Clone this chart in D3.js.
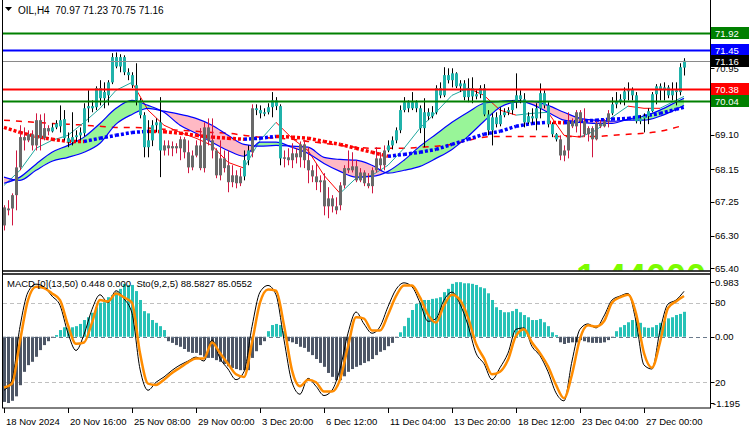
<!DOCTYPE html>
<html>
<head>
<meta charset="utf-8">
<script src="https://cdn.jsdelivr.net/npm/d3@7"></script>
<style>
  body { margin: 0; background: #fff; }
  svg { display: block; font-family: "Liberation Sans", Arial, sans-serif; }
</style>
</head>
<body>
<svg id="chart" width="750" height="430"></svg>
<script>
// ---- data (OIL, H4) ----
const openP = [
  67.09,67.01,67.06,67.43,68.20,69.04,68.95,69.12,68.81,69.51,
  69.01,69.29,69.20,69.31,69.34,69.54,69.01,68.90,69.04,69.09,
  69.15,69.84,69.90,69.87,70.40,70.12,70.20,70.56,71.26,71.00,
  71.26,70.84,70.76,70.48,70.06,69.65,68.76,68.95,69.37,69.45,
  68.67,68.81,68.73,68.79,68.73,68.98,68.62,68.20,68.53,68.81,
  68.18,69.31,68.95,68.67,67.98,68.45,68.26,67.79,67.98,67.76,
  67.95,68.40,68.62,69.84,69.79,69.70,69.73,69.87,70.06,69.90,
  68.45,68.48,68.40,68.59,68.48,68.84,68.40,68.12,67.95,67.79,
  67.84,67.12,67.34,67.12,67.15,67.70,68.18,68.12,68.23,67.84,
  68.06,67.76,67.68,68.12,68.45,68.26,68.67,68.81,68.95,69.23,
  69.79,70.01,69.84,70.01,69.84,69.29,69.73,69.62,69.73,70.40,
  70.20,70.76,70.62,70.81,70.45,70.53,70.15,70.40,70.17,70.23,
  70.40,69.67,69.23,69.59,69.40,69.65,69.73,69.79,70.01,70.20,
  70.09,69.45,69.62,69.56,69.84,70.26,69.92,69.40,69.12,68.98,
  68.53,68.67,69.48,69.34,69.73,69.48,69.12,69.29,68.98,69.42,
  69.34,69.48,69.70,69.95,70.03,70.09,70.31,70.37,70.20,69.48,
  69.56,69.62,69.76,70.23,70.45,70.34,70.42,70.20,70.34,70.29,
  70.97
];
const highP = [
  67.15,67.29,67.48,68.67,69.37,69.31,69.23,69.23,69.70,69.67,
  69.70,69.37,69.42,69.51,69.92,69.79,69.17,69.73,69.23,69.31,
  69.98,70.34,70.06,70.45,70.62,70.56,70.62,71.37,71.39,71.34,
  71.31,70.95,70.84,71.09,70.12,69.73,69.51,69.51,69.56,70.15,
  68.95,68.95,68.92,68.87,69.06,69.04,68.95,68.67,68.95,69.29,
  69.45,69.56,69.56,68.73,68.95,68.67,68.67,68.26,68.12,68.18,
  68.67,68.81,69.95,69.95,69.92,69.84,69.98,70.29,70.15,69.95,
  68.67,68.73,68.87,68.73,68.92,68.95,68.76,68.26,68.31,67.98,
  68.04,67.65,67.43,67.37,67.79,68.26,68.67,68.62,68.40,68.18,
  68.12,68.04,68.20,68.76,68.62,68.81,68.95,69.06,69.31,69.92,
  70.15,70.06,70.29,70.06,69.92,70.12,69.84,69.90,70.48,70.56,
  70.98,70.95,70.95,70.84,70.62,70.62,70.67,70.70,70.34,70.48,
  70.51,69.79,69.70,69.73,69.87,69.84,69.87,70.06,70.81,70.34,
  70.26,69.73,69.84,69.98,70.53,70.34,70.01,69.45,69.15,69.09,
  68.81,69.73,69.56,69.79,69.79,69.84,69.34,69.34,69.48,69.51,
  69.54,69.79,70.15,70.29,70.23,70.42,70.56,70.42,70.29,69.65,
  69.70,69.84,70.29,70.51,70.53,70.56,70.48,70.56,70.56,71.09,
  71.23
];
const lowP = [
  66.45,66.87,66.59,67.01,68.12,68.67,68.90,68.67,68.67,68.67,
  68.95,69.09,69.17,69.26,69.17,68.95,68.76,68.81,68.92,68.95,
  69.06,69.45,69.73,69.79,69.92,69.84,69.92,70.51,70.95,70.84,
  70.76,70.62,70.40,69.92,69.56,68.48,68.48,68.79,69.17,67.93,
  68.53,68.53,68.51,68.59,68.40,68.45,68.04,68.12,68.48,68.12,
  68.06,68.81,68.45,67.90,67.84,68.06,67.51,67.65,67.62,67.68,
  67.84,68.26,68.48,69.65,69.56,69.62,69.67,69.59,69.79,68.26,
  68.20,68.26,68.18,68.31,68.20,68.18,67.76,67.79,67.57,67.51,
  66.87,66.79,66.95,66.90,67.01,67.62,68.04,68.06,67.79,67.79,
  67.68,67.62,67.48,68.06,68.12,68.12,68.62,68.70,68.87,69.15,
  69.73,69.73,69.79,69.73,69.15,68.76,69.51,69.56,69.67,70.12,
  70.15,70.53,70.42,70.40,70.29,70.06,70.01,69.98,70.09,70.12,
  69.62,69.09,68.81,69.31,69.34,69.59,69.65,69.67,69.84,69.98,
  69.31,69.40,69.42,69.23,69.56,69.84,69.31,69.04,68.92,68.40,
  68.37,68.45,69.29,69.17,69.04,69.04,68.92,68.48,68.95,69.29,
  69.31,69.31,69.65,69.84,69.95,69.92,70.06,70.06,69.42,69.40,
  69.17,69.40,69.73,69.95,70.06,70.06,70.12,70.06,69.92,70.20,
  70.75
];
const closeP = [
  66.59,67.06,67.43,68.20,69.04,68.95,69.12,68.81,69.51,69.01,
  69.29,69.20,69.31,69.42,69.51,69.01,68.90,69.04,69.09,69.17,
  69.84,69.90,69.84,70.40,70.12,70.29,70.56,71.26,71.00,71.26,
  70.84,70.76,70.48,70.06,69.65,68.76,68.95,69.37,69.45,68.67,
  68.81,68.73,68.79,68.73,68.98,68.62,68.20,68.53,68.81,68.18,
  69.31,68.95,68.67,67.98,68.45,68.18,67.79,67.98,67.76,67.95,
  68.40,68.67,69.84,69.79,69.70,69.73,69.87,70.06,69.90,68.45,
  68.48,68.40,68.59,68.48,68.84,68.40,68.12,67.95,67.79,67.84,
  67.12,67.34,67.12,67.01,67.70,68.18,68.12,68.23,67.84,68.06,
  67.76,67.68,68.12,68.45,68.26,68.67,68.81,68.95,69.23,69.79,
  70.01,69.84,70.01,69.84,69.29,69.73,69.62,69.73,70.40,70.20,
  70.76,70.62,70.81,70.45,70.53,70.15,70.40,70.17,70.23,70.40,
  69.67,69.23,69.59,69.40,69.65,69.73,69.79,70.01,70.20,70.09,
  69.45,69.62,69.56,69.84,70.26,69.92,69.40,69.12,68.98,68.53,
  68.67,69.48,69.34,69.73,69.48,69.12,69.29,68.98,69.42,69.34,
  69.48,69.70,69.95,70.03,70.09,70.31,70.37,70.20,69.48,69.56,
  69.62,69.76,70.23,70.45,70.34,70.42,70.20,70.34,70.29,70.98,
  71.16
];
// bar colouring runs of the trend filter: [first bar, last bar, direction]
const trendRuns = [
  [0, 11, "dn"], [12, 39, "up"], [40, 59, "dn"], [60, 61, "up"], [62, 62, "dn"],
  [63, 69, "up"], [70, 95, "dn"], [96, 138, "up"], [139, 151, "dn"], [152, 170, "up"]
];

// indicator lines, sampled every 4 bars
const maBars = [0,4,8,12,16,20,24,28,32,36,40,44,48,52,56,60,64,68,72,76,80,84,88,92,96,
  100,104,108,112,116,120,124,128,132,136,140,144,148,152,156,160,164,168,170];
const bandFast = [67.76,67.93,68.29,68.62,68.81,69.04,69.42,69.84,70.06,69.92,
  69.73,69.37,69.15,68.90,68.67,68.51,68.90,68.90,68.76,68.59,
  68.31,68.09,67.93,67.95,68.09,68.40,68.79,69.12,69.45,69.73,
  69.98,70.03,70.06,69.95,69.73,69.51,69.45,69.42,69.42,69.54,
  69.62,69.79,70.01,70.12];
const bandSlow = [67.93,67.84,68.12,68.37,68.48,68.62,68.87,69.40,69.67,69.84,
  69.76,69.67,69.56,69.37,69.09,68.84,68.79,68.81,68.79,68.76,
  68.48,68.42,68.40,68.26,68.04,68.12,68.23,68.45,68.70,69.06,
  69.48,69.87,70.01,70.03,69.92,69.73,69.56,69.51,69.48,69.51,
  69.51,69.62,69.81,69.92];
const fastLine = [67.70,68.12,68.73,68.95,69.09,69.45,69.84,70.34,70.56,69.79,
  69.37,69.17,69.01,68.81,68.34,68.18,68.95,69.45,69.01,68.67,
  67.98,67.48,67.90,67.98,68.26,68.73,69.29,69.73,70.20,70.40,
  70.20,69.79,69.65,69.70,69.73,69.09,69.04,69.23,69.59,69.90,
  69.84,69.84,70.06,70.17];
const dottedMA = [69.31,69.17,69.06,68.98,68.92,68.92,69.01,69.09,69.17,69.20,
  69.19,69.15,69.09,69.04,69.01,68.98,69.01,69.06,69.04,69.01,
  68.92,68.84,68.73,68.62,68.51,68.56,68.62,68.70,68.84,68.98,
  69.12,69.20,69.34,69.42,69.45,69.44,69.48,69.51,69.54,69.56,
  69.62,69.70,69.81,69.87];
const dashedMA = [69.51,69.48,69.45,69.42,69.40,69.37,69.34,69.31,69.31,69.29,
  69.26,69.23,69.20,69.17,69.15,69.09,69.04,69.01,68.98,68.92,
  68.87,68.81,68.76,68.73,68.73,68.73,68.76,68.79,68.84,68.95,
  69.04,69.06,69.06,69.06,69.06,69.06,69.06,69.06,69.09,69.12,
  69.15,69.20,69.31,69.37];

// horizontal levels
const levelValues = [71.92, 71.45, 71.16, 70.38, 70.04];

// MACD histogram, one value per bar
const macdHist = [
  -1.17,-1.19,-1.15,-1.07,-0.87,-0.63,-0.51,-0.45,-0.36,-0.24,
  -0.15,-0.08,-0.02,0.03,0.12,0.17,0.16,0.17,0.19,0.23,
  0.30,0.35,0.43,0.53,0.61,0.62,0.71,0.75,0.80,0.86,
  0.95,0.93,0.93,0.82,0.66,0.46,0.42,0.30,0.25,0.19,
  0.12,-0.08,-0.11,-0.15,-0.18,-0.22,-0.27,-0.29,-0.29,-0.33,
  -0.36,-0.38,-0.38,-0.42,-0.45,-0.49,-0.53,-0.56,-0.58,-0.60,
  -0.60,-0.60,-0.38,-0.26,-0.15,-0.08,0.10,0.21,0.23,0.21,
  0.10,-0.08,-0.10,-0.13,-0.18,-0.20,-0.27,-0.33,-0.40,-0.47,
  -0.54,-0.65,-0.72,-0.78,-0.78,-0.71,-0.63,-0.58,-0.54,-0.51,
  -0.47,-0.44,-0.40,-0.33,-0.27,-0.24,-0.17,-0.11,-0.02,0.08,
  0.19,0.34,0.48,0.59,0.62,0.66,0.66,0.68,0.69,0.71,
  0.80,0.86,0.95,0.98,0.98,0.96,0.96,0.95,0.93,0.89,
  0.87,0.78,0.66,0.53,0.48,0.44,0.44,0.46,0.50,0.44,
  0.39,0.35,0.30,0.30,0.32,0.26,0.19,0.08,0.03,-0.10,
  -0.13,-0.11,-0.10,-0.10,-0.06,-0.08,-0.10,-0.11,-0.11,-0.11,
  -0.10,-0.06,-0.02,0.10,0.17,0.21,0.26,0.30,0.30,0.25,
  0.17,0.16,0.17,0.21,0.25,0.28,0.33,0.35,0.39,0.41,
  0.448
];

// stochastic, sampled every 2 bars (bar = 2*k)
const stochMain = [14,22,62,88,94,92,85,78,57,44, 56,75,86,80,89,83,72,30,14,20,
  24,29,33,36,39,36,52,38,30,22, 28,62,88,93,86,52,20,11,23,17,
  10,14,30,57,73,64,57,62,77,90, 95,92,80,66,68,82,88,79,63,42,
  34,22,31,42,60,61,47,40,28,12, 6,36,60,64,61,70,82,85,87,66,
  33,30,59,79,82,88.58];
const stochSignal = [16,19,51,82,92,91,87,82,63,49, 50,65,82,81,87,84,80,42,19,18,
  22,27,31,35,38,38,50,42,34,26, 24,50,80,90,89,63,29,17,22,20,
  13,13,22,47,69,68,59,59,71,85, 93,93,84,71,65,78,86,82,69,49,
  38,26,28,37,55,60,50,42,32,18, 8,26,53,63,62,66,80,84,86,72,
  42,31,50,76,81,85.06];

const priceTicks = [70.95, 69.10, 68.15, 67.25, 66.30, 65.40];
const timeLabelBars = [0, 16, 32, 48, 64, 80, 96, 112, 128, 144, 160];
const timeLabels = ["18 Nov 2024", "20 Nov 16:00", "25 Nov 08:00", "29 Nov 00:00", "3 Dec 20:00",
  "6 Dec 12:00", "11 Dec 04:00", "13 Dec 20:00", "18 Dec 12:00", "23 Dec 04:00", "27 Dec 00:00"];

// ---- drawing ----
const svg = d3.select("#chart");
const AXIS_X = 710.5;

const x = d3.scaleLinear().domain([0, 170]).range([4, 684]);
const yMain = d3.scaleLinear().domain([65.40, 70.95]).range([268.3, 68.3]);
const yMacd = d3.scaleLinear().domain([-1.195, 0.983]).range([403.3, 282]);
const yStoch = d3.scaleLinear().domain([0, 100]).range([408.8, 276.2]);

const defs = svg.append("defs");
defs.append("clipPath").attr("id", "clipMain")
  .append("rect").attr("x", 3).attr("y", 0).attr("width", 707).attr("height", 270.5);
defs.append("clipPath").attr("id", "clipSub")
  .append("rect").attr("x", 3).attr("y", 275).attr("width", 707).attr("height", 132.5);

const main = svg.append("g").attr("clip-path", "url(#clipMain)");
const sub = svg.append("g").attr("clip-path", "url(#clipSub)");

const mx = k => x(maBars[k]);
const ks = d3.range(maBars.length);

// band between the two moving averages: green when fast is above, pink when below
const aboveSlow = d3.area().x(mx).y0(0).y1(k => yMain(bandSlow[k])).curve(d3.curveMonotoneX);
const belowSlow = d3.area().x(mx).y0(272).y1(k => yMain(bandSlow[k])).curve(d3.curveMonotoneX);
defs.append("clipPath").attr("id", "clipUp").append("path").attr("d", aboveSlow(ks));
defs.append("clipPath").attr("id", "clipDn").append("path").attr("d", belowSlow(ks));

const band = d3.area().x(mx)
  .y0(k => yMain(bandFast[k])).y1(k => yMain(bandSlow[k]))
  .curve(d3.curveMonotoneX);
main.append("path").attr("d", band(ks)).attr("fill", "#98f598").attr("clip-path", "url(#clipUp)");
main.append("path").attr("d", band(ks)).attr("fill", "#ffb9c4").attr("clip-path", "url(#clipDn)");

// long MA (red dashes)
main.append("path")
  .attr("d", d3.line().x(mx).y(k => yMain(dashedMA[k])).curve(d3.curveMonotoneX)(ks))
  .attr("fill", "none").attr("stroke", "#ff0000").attr("stroke-width", 1.5)
  .attr("stroke-dasharray", "6 6");

// fast line and dotted MA: colour by direction of each segment
function drawSegments(values, upColor, dnColor, width, dash) {
  const segs = d3.range(values.length - 1);
  main.append("g").selectAll("line").data(segs).join("line")
    .attr("x1", k => mx(k)).attr("x2", k => mx(k + 1))
    .attr("y1", k => yMain(values[k])).attr("y2", k => yMain(values[k + 1]))
    .attr("stroke", k => values[k + 1] > values[k] ? upColor : dnColor)
    .attr("stroke-width", width)
    .attr("stroke-dasharray", dash);
}
drawSegments(fastLine, "#20a89f", "#ff0000", 1, null);

main.append("g").selectAll("path").data(["fast", "slow"]).join("path")
  .attr("d", s => d3.line().x(mx).y(k => yMain(s === "fast" ? bandFast[k] : bandSlow[k]))
    .curve(d3.curveMonotoneX)(ks))
  .attr("fill", "none").attr("stroke", "#0000ff").attr("stroke-width", 1.2);

drawSegments(dottedMA, "#0000ff", "#ff0000", 3.5, "3 2");

// candles
const bars = d3.range(closeP.length);
const trendOf = i => (trendRuns.find(r => i >= r[0] && i <= r[1]) || [0, 0, "up"])[2];
const cx = i => Math.round(x(i));
const cg = main.append("g");
cg.selectAll("line").data(bars).join("line")
  .attr("x1", i => cx(i) + 0.5).attr("x2", i => cx(i) + 0.5)
  .attr("y1", i => yMain(highP[i])).attr("y2", i => yMain(lowP[i]))
  .attr("stroke", i => trendOf(i) === "up" ? "#000" : "#d0153f")
  .attr("stroke-width", 1);
cg.selectAll("rect").data(bars).join("rect")
  .attr("x", i => cx(i) - 1).attr("width", 3)
  .attr("y", i => yMain(Math.max(openP[i], closeP[i])))
  .attr("height", i => Math.max(1.5, Math.abs(yMain(openP[i]) - yMain(closeP[i]))))
  .attr("fill", i => trendOf(i) === "up" ? "#20b2aa" : "#696969");

// large lime label sitting mostly below the main window edge, only its top shows
main.append("text").attr("x", 576).attr("y", 290)
  .attr("font-size", 36).attr("font-weight", "bold").attr("fill", "#7cfc00")
  .text("1.44000");

// horizontal level lines
const levelStyle = [
  { color: "#008000", width: 2, box: "#008000" },
  { color: "#0000ff", width: 2, box: "#0000ff" },
  { color: "#8a8a8a", width: 1, box: "#000000" },
  { color: "#ff0000", width: 2, box: "#ff0000" },
  { color: "#008000", width: 2, box: "#008000" }
];
svg.append("g").selectAll("line").data(levelValues).join("line")
  .attr("x1", 3).attr("x2", AXIS_X)
  .attr("y1", v => Math.round(yMain(v)) + 0.5).attr("y2", v => Math.round(yMain(v)) + 0.5)
  .attr("stroke", (v, i) => levelStyle[i].color)
  .attr("stroke-width", (v, i) => levelStyle[i].width);

// ---- sub window: MACD histogram + stochastic ----
sub.append("g").selectAll("line").data([20, 80]).join("line")
  .attr("x1", 3).attr("x2", AXIS_X)
  .attr("y1", v => Math.round(yStoch(v)) + 0.5).attr("y2", v => Math.round(yStoch(v)) + 0.5)
  .attr("stroke", "#c0c0c0").attr("stroke-dasharray", "4 3");

sub.append("g").selectAll("rect").data(bars).join("rect")
  .attr("x", i => cx(i) - 1).attr("width", 3)
  .attr("y", i => Math.min(yMacd(0), yMacd(macdHist[i])))
  .attr("height", i => Math.abs(yMacd(macdHist[i]) - yMacd(0)))
  .attr("fill", i => macdHist[i] >= 0 ? "#27c2b7" : "#4d5666");

sub.append("line")
  .attr("x1", 3).attr("x2", AXIS_X)
  .attr("y1", Math.round(yMacd(0)) + 0.5).attr("y2", Math.round(yMacd(0)) + 0.5)
  .attr("stroke", "#6b7a8c").attr("stroke-dasharray", "4 3");

const sk = d3.range(stochMain.length);
sub.append("path")
  .attr("d", d3.line().x(k => x(k * 2)).y(k => yStoch(stochMain[k])).curve(d3.curveMonotoneX)(sk))
  .attr("fill", "none").attr("stroke", "#000").attr("stroke-width", 1);
sub.append("path")
  .attr("d", d3.line().x(k => x(k * 2)).y(k => yStoch(stochSignal[k])).curve(d3.curveMonotoneX)(sk))
  .attr("fill", "none").attr("stroke", "#ff8c00").attr("stroke-width", 2.5);

// ---- frame ----
const frame = svg.append("g").attr("stroke", "#000").attr("fill", "none");
frame.append("line").attr("x1", 2.5).attr("x2", 2.5).attr("y1", 0).attr("y2", 408);
frame.append("line").attr("x1", AXIS_X).attr("x2", AXIS_X).attr("y1", 0).attr("y2", 408);
frame.append("line").attr("x1", 2).attr("x2", 711).attr("y1", 271).attr("y2", 271).attr("stroke-width", 1.3);
frame.append("line").attr("x1", 2).attr("x2", 711).attr("y1", 274).attr("y2", 274).attr("stroke-width", 1.3);
frame.append("line").attr("x1", 2).attr("x2", 711).attr("y1", 408).attr("y2", 408);

// ---- price axis ----
const axisG = svg.append("g").attr("font-size", 9.5);
axisG.selectAll("line").data(priceTicks).join("line")
  .attr("x1", AXIS_X).attr("x2", AXIS_X + 4)
  .attr("y1", v => Math.round(yMain(v)) + 0.5).attr("y2", v => Math.round(yMain(v)) + 0.5)
  .attr("stroke", "#000");
axisG.selectAll("text").data(priceTicks).join("text")
  .attr("x", 715).attr("y", v => yMain(v) + 3.5)
  .text(v => v.toFixed(2));

// level price boxes
const boxG = svg.append("g").attr("font-size", 9.5);
levelValues.forEach((v, i) => {
  const yy = Math.round(yMain(v));
  boxG.append("rect").attr("x", 711).attr("y", yy - 6).attr("width", 38).attr("height", 12)
    .attr("fill", levelStyle[i].box);
  boxG.append("text").attr("x", 715).attr("y", yy + 4).attr("fill", "#fff").text(v.toFixed(2));
});

// sub window scale
const subTicks = [
  { y: yMacd(0.983), t: "0.983" },
  { y: yStoch(80), t: "80" },
  { y: yMacd(0), t: "0.00" },
  { y: yStoch(20), t: "20" },
  { y: yMacd(-1.195), t: "-1.195" }
];
const subAxis = svg.append("g").attr("font-size", 9.5);
subAxis.selectAll("line").data(subTicks).join("line")
  .attr("x1", AXIS_X).attr("x2", AXIS_X + 4)
  .attr("y1", d => Math.round(d.y) + 0.5).attr("y2", d => Math.round(d.y) + 0.5)
  .attr("stroke", "#000");
subAxis.selectAll("text").data(subTicks).join("text")
  .attr("x", d => d.t.startsWith("-") ? 713 : 715).attr("y", d => d.y + 3.5)
  .text(d => d.t);

// ---- time axis ----
const timeG = svg.append("g").attr("font-size", 9.5);
timeG.selectAll("line").data(timeLabelBars).join("line")
  .attr("x1", i => cx(i) + 0.5).attr("x2", i => cx(i) + 0.5)
  .attr("y1", 408).attr("y2", 413).attr("stroke", "#000");
timeG.selectAll("text").data(timeLabelBars).join("text")
  .attr("x", i => cx(i) + 2).attr("y", 425)
  .text((b, i) => timeLabels[i]);

// ---- titles ----
svg.append("path").attr("d", "M5,7 L12,7 L8.5,11 Z").attr("fill", "#000");
svg.append("text").attr("x", 18).attr("y", 14).attr("font-size", 10)
  .style("white-space", "pre")
  .text("OIL,H4  70.97 71.23 70.75 71.16");
svg.append("text").attr("x", 7).attr("y", 287).attr("font-size", 9.5)
  .style("white-space", "pre")
  .text("MACD [0](13,50) 0.448 0.000  Sto(9,2,5) 88.5827 85.0552");
</script>
</body>
</html>
